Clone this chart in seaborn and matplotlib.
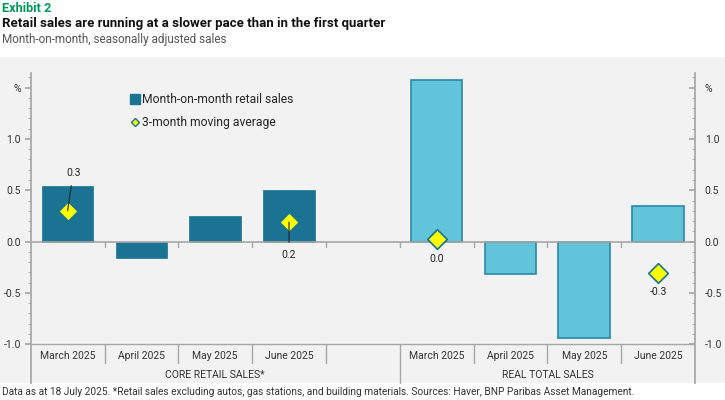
import numpy as np
import pandas as pd
import matplotlib
matplotlib.use("Agg")
import matplotlib.pyplot as plt
import matplotlib.ticker as ticker
from matplotlib.lines import Line2D
from matplotlib.patches import Rectangle
import seaborn as sns

# data
months = ["March 2025", "April 2025", "May 2025", "June 2025"]
groups = ["CORE RETAIL SALES*", "REAL TOTAL SALES"]
core_mom = [0.54, -0.16, 0.25, 0.50]
real_mom = [1.57, -0.32, -0.94, 0.35]
# 3-month moving average, only plotted for March and June
core_ma = [0.30, np.nan, np.nan, 0.19]
real_ma = [0.03, np.nan, np.nan, -0.31]
y_ticks = [-1.0, -0.5, 0.0, 0.5, 1.0, 1.5]
y_labels = ["-1.0", "-0.5", "0.0", "0.5", "1.0", "%"]

TEAL = "#1a7393"
CYAN = "#62c4da"
CYAN_EDGE = "#2a88a6"
YELLOW = "#ffff00"
GREY = "#a6a6a6"
BG = "#f2f2f2"

sns.set_theme(style="white")
plt.rcParams["font.family"] = ["Liberation Sans Narrow", "Roboto", "DejaVu Sans"]

core_keys = [groups[0] + "|" + m for m in months]
real_keys = [groups[1] + "|" + m for m in months]
order = core_keys + ["spacer"] + real_keys

df = pd.DataFrame({
    "slot": core_keys + real_keys,
    "group": [groups[0]] * 4 + [groups[1]] * 4,
    "mom": core_mom + real_mom,
    "ma": core_ma + real_ma,
})
df["pos"] = [order.index(s) for s in df["slot"]]

fig = plt.figure(figsize=(7.25, 4.0), dpi=100)
fig.patch.set_facecolor("white")
fig.patches.append(Rectangle((0, 1 - 383 / 400), 1, (383 - 56.7) / 400,
                             transform=fig.transFigure, facecolor=BG,
                             edgecolor="none", zorder=-10))
ax = fig.add_axes([30.7 / 725, 1 - 383 / 400, (695 - 30.7) / 725, (383 - 72.7) / 400])
ax.set_facecolor("none")

sns.barplot(data=df, x="slot", y="mom", hue="group", order=order,
            palette=[TEAL, CYAN], width=0.7, dodge=False, saturation=1,
            legend=False, ax=ax, zorder=3)
for p in ax.patches:
    if np.allclose(p.get_facecolor()[:3], matplotlib.colors.to_rgb(CYAN)):
        p.set_edgecolor(CYAN_EDGE)
        p.set_linewidth(1.2)
    else:
        p.set_edgecolor(TEAL)
        p.set_linewidth(0.5)

ma = df.dropna(subset=["ma"])
sns.scatterplot(data=ma, x="pos", y="ma", marker="D", s=100, color=YELLOW,
                edgecolor=TEAL, linewidth=1.2, zorder=6, ax=ax, legend=False)

# labels for the moving average points (offsets in points)
label_offsets = {0: (4, 27), 3: (0, -23.5), 5: (0, -14.5), 8: (0, -13.5)}
for _, r in ma.iterrows():
    dx, dy = label_offsets[r["pos"]]
    leader = r["group"] == groups[0]
    ax.annotate("{:.1f}".format(r["ma"]), xy=(r["pos"], r["ma"]),
                xytext=(dx, dy), textcoords="offset points",
                ha="center", va="center", fontsize=7.5, color="#222222",
                zorder=7,
                arrowprops=dict(arrowstyle="-", color="#222222", lw=0.8,
                                shrinkA=3, shrinkB=0) if leader else None)

y_lo = -1.0 - (383 - 344.3) / 102.7
y_hi = 1.645
ax.set_xlim(-0.5, len(order) - 0.5)
ax.set_ylim(y_lo, y_hi)

# zero line and base line
ax.axhline(0, color=GREY, lw=1.2, zorder=4)
ax.axhline(-1.0, color=GREY, lw=1.0, zorder=4)
for i in range(len(order) - 1):
    x = i + 0.5
    ax.plot([x, x], [0, -0.05], color=GREY, lw=1.0, zorder=4)
    bottom = y_lo if i == 4 else -1.18
    ax.plot([x, x], [-1.0, bottom], color=GREY, lw=1.0, zorder=4, clip_on=False)

# category labels and group labels
for i, key in enumerate(order):
    if key == "spacer":
        continue
    ax.text(i, -1.11, key.split("|")[1], ha="center", va="center",
            fontsize=7.5, color="#333333")
ax.text(2.0, -1.30, groups[0], ha="center", va="center", fontsize=7.5, color="#333333")
ax.text(6.5, -1.30, groups[1], ha="center", va="center", fontsize=7.5, color="#333333")

ax.set_xticks([])
ax.set_xlabel("")
ax.set_ylabel("")
for s in ["top", "bottom", "right"]:
    ax.spines[s].set_visible(False)
ax.spines["left"].set_color(GREY)

ax.yaxis.set_major_locator(ticker.FixedLocator(y_ticks))
ax.yaxis.set_major_formatter(ticker.FixedFormatter(y_labels))
ax.yaxis.set_minor_locator(ticker.FixedLocator(np.arange(-1.0, 1.61, 0.1)))
ax.tick_params(axis="y", which="major", direction="out", length=4, color=GREY,
               labelsize=7.5, labelcolor="#333333", pad=3, left=True)
ax.tick_params(axis="y", which="minor", direction="out", length=2.5, color=GREY,
               width=0.6, left=True)

ax2 = ax.twinx()
ax2.set_ylim(y_lo, y_hi)
ax2.set_facecolor("none")
for s in ["top", "bottom", "left"]:
    ax2.spines[s].set_visible(False)
ax2.spines["right"].set_color(GREY)
ax2.yaxis.set_major_locator(ticker.FixedLocator(y_ticks))
ax2.yaxis.set_major_formatter(ticker.FixedFormatter(y_labels))
ax2.yaxis.set_minor_locator(ticker.FixedLocator(np.arange(-1.0, 1.61, 0.1)))
ax2.tick_params(axis="y", which="major", direction="in", length=4, color=GREY,
                labelsize=7.5, labelcolor="#333333", pad=7, right=True)
ax2.tick_params(axis="y", which="minor", direction="in", length=2.5, color=GREY,
                width=0.6, right=True)

# legend
handles = [
    Line2D([], [], marker="s", color=TEAL, linestyle="", markersize=6.5),
    Line2D([], [], marker="D", markerfacecolor=YELLOW, markeredgecolor=TEAL,
           markeredgewidth=1.0, linestyle="", markersize=4.5),
]
ax.legend(handles, ["Month-on-month retail sales", "3-month moving average"],
          loc="upper left", bbox_to_anchor=(130 / 725, 1 - 93 / 400),
          bbox_transform=fig.transFigure, frameon=False, fontsize=8.7,
          handlelength=0.8, handletextpad=0.2, labelspacing=0.85,
          borderpad=0, borderaxespad=0)

# titles and footnote
fig.text(2 / 725, 1 - 8 / 400, "Exhibit 2", color="#00995a", fontsize=9.2,
         fontweight="bold", va="center", ha="left")
fig.text(2 / 725, 1 - 23 / 400,
         "Retail sales are running at a slower pace than in the first quarter",
         color="#111111", fontsize=9.5, fontweight="bold", va="center", ha="left")
fig.text(2 / 725, 1 - 39 / 400, "Month-on-month, seasonally adjusted sales",
         color="#555555", fontsize=8.5, va="center", ha="left")
fig.text(2 / 725, 1 - 392 / 400,
         "Data as at 18 July 2025. *Retail sales excluding autos, gas stations, "
         "and building materials. Sources: Haver, BNP Paribas Asset Management.",
         color="#333333", fontsize=7.3, va="center", ha="left")

fig.savefig("out.png", dpi=100)
